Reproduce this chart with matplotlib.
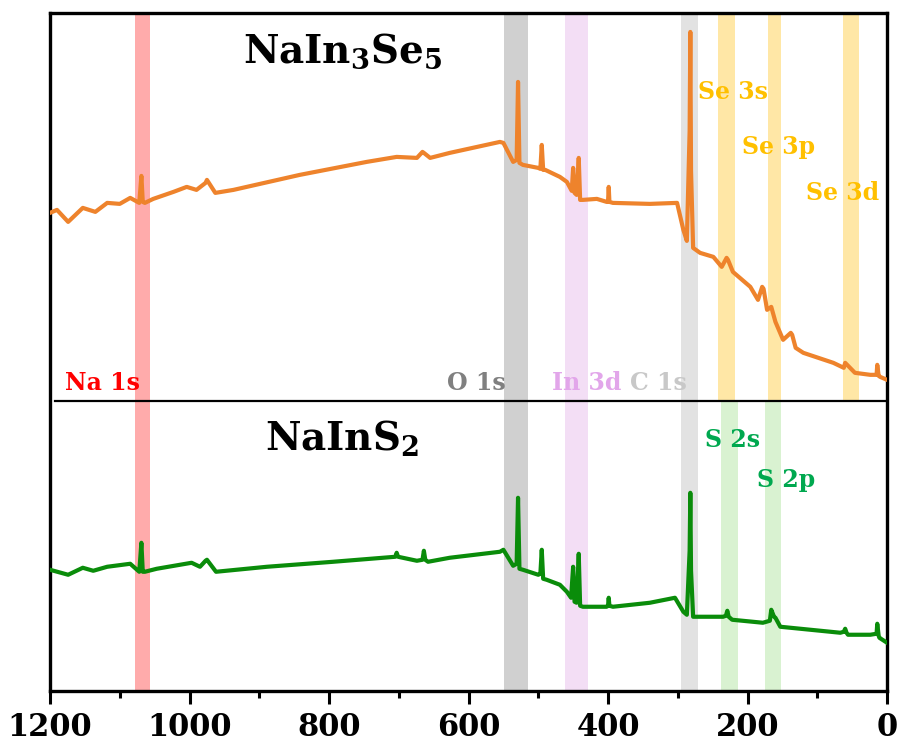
import matplotlib
matplotlib.use('Agg')
import matplotlib.pyplot as plt

plt.rcParams['font.family'] = 'DejaVu Serif'
plt.rcParams['font.weight'] = 'bold'
plt.rcParams['mathtext.fontset'] = 'dejavuserif'

# binding energy (eV) and intensity (a.u.)
se_eV = [1200, 1190, 1174, 1153, 1135, 1118, 1100, 1085, 1072, 1069, 1067, 1064, 1052,
         1023, 1004, 990, 977, 975, 963, 937, 842, 746, 703, 674, 666, 664, 655, 627, 555,
         550, 536, 531, 529, 527, 522, 500, 497, 495, 493, 490, 469, 459, 452, 450, 448,
         445, 442, 440, 436, 416, 402, 400, 399, 398, 393, 340, 301, 292, 287, 283, 282,
         281, 278, 268, 249, 237, 230, 228, 221, 196, 185, 179, 177, 172, 166, 160, 149,
         138, 136, 131, 120, 77, 62, 60, 46, 24, 15, 14, 12, 10, 0]
se_int = [478, 481, 469, 483, 479, 488, 487, 493, 488, 515, 489, 488, 492,
          499, 504, 501, 508, 511, 498, 501, 516, 529, 534, 533, 539, 538, 533, 538, 549,
          548, 529, 531, 609, 528, 526, 523, 522, 546, 521, 521, 514, 509, 500, 523, 498,
          496, 533, 491, 491, 492, 489, 489, 504, 489, 488, 487, 488, 461, 450, 560, 659,
          520, 443, 438, 434, 424, 433, 431, 419, 404, 391, 404, 402, 381, 384, 369, 351,
          358, 356, 343, 338, 328, 323, 328, 318, 316, 316, 326, 315, 314, 311]

s_eV = [1200, 1174, 1153, 1138, 1118, 1085, 1072, 1069, 1067, 1064, 1047, 997, 985,
        977, 975, 962, 889, 794, 705, 703, 701, 674, 666, 664, 662, 658, 627, 555, 550,
        536, 531, 529, 527, 522, 500, 497, 495, 493, 488, 469, 459, 453, 450, 448,
        445, 442, 440, 436, 402, 400, 399, 398, 393, 340, 304, 292, 287, 283, 282, 281,
        278, 235, 231, 229, 227, 222, 178, 168, 166, 162, 160, 153, 67, 62, 60, 58,
        56, 24, 15, 14, 12, 11, 0]
s_int = [121, 116, 123, 120, 124, 127, 119, 148, 119, 119, 122, 128, 124,
         130, 131, 119, 124, 129, 134, 138, 134, 130, 131, 140, 131, 129, 133, 139, 141,
         125, 127, 193, 122, 121, 116, 117, 141, 112, 111, 106, 99, 93, 124, 89,
         88, 137, 85, 84, 84, 85, 93, 85, 84, 88, 93, 79, 76, 140, 198, 120, 74,
         74, 75, 80, 74, 71, 68, 70, 81, 74, 73, 64, 58, 59, 62, 58, 56, 56, 57,
         67, 55, 53, 48]

# shaded peak regions (eV ranges)
common_bands = [('Na 1s', 1078, 1056, '#ffabab', '#ff0000'),
                ('O 1s', 549, 515, '#d0d0d0', '#808080'),
                ('In 3d', 462, 428, '#f3def5', '#e2a6ea'),
                ('C 1s', 295, 271, '#e2e2e2', '#c8c8c8')]
se_bands = [(242, 218), (170, 152), (63, 40)]
s_bands = [(238, 214), (175, 152)]

divider = 290
ymax = 678

fig = plt.figure(figsize=(9.01, 7.44), dpi=100)
ax = fig.add_axes([0.0555, 0.0716, 0.929, 0.911])

for name, hi, lo, fc, tc in common_bands:
    ax.axvspan(lo, hi, color=fc, lw=0, zorder=1)
for hi, lo in se_bands:
    ax.axvspan(lo, hi, ymin=divider / ymax, ymax=1, color='#ffe7a6', lw=0, zorder=1)
for hi, lo in s_bands:
    ax.axvspan(lo, hi, ymin=0, ymax=divider / ymax, color='#d9f2d1', lw=0, zorder=1)

ax.plot(se_eV, se_int, color='#ee832c', lw=3, zorder=3)
ax.plot(s_eV, s_int, color='#0a8c0a', lw=3, zorder=3)
ax.axhline(divider, xmin=0.006, xmax=0.998, color='black', lw=1.6, zorder=4)

# labels
fs = 17
ax.text(1178, 308, 'Na 1s', color='#ff0000', fontsize=fs, va='center', ha='left', zorder=5)
ax.text(631, 308, 'O 1s', color='#808080', fontsize=fs, va='center', ha='left', zorder=5)
ax.text(481, 308, 'In 3d', color='#e2a6ea', fontsize=fs, va='center', ha='left', zorder=5)
ax.text(368, 308, 'C 1s', color='#c8c8c8', fontsize=fs, va='center', ha='left', zorder=5)
ax.text(271, 599, 'Se 3s', color='#ffc000', fontsize=fs, va='center', ha='left', zorder=5)
ax.text(208, 544, 'Se 3p', color='#ffc000', fontsize=fs, va='center', ha='left', zorder=5)
ax.text(116, 498, 'Se 3d', color='#ffc000', fontsize=fs, va='center', ha='left', zorder=5)
ax.text(261, 251, 'S 2s', color='#00a84f', fontsize=fs, va='center', ha='left', zorder=5)
ax.text(186, 211, 'S 2p', color='#00a84f', fontsize=fs, va='center', ha='left', zorder=5)

ax.text(781, 640, r'NaIn$_\mathbf{3}$Se$_\mathbf{5}$', fontsize=28, ha='center', va='center', zorder=5)
ax.text(781, 253, r'NaInS$_\mathbf{2}$', fontsize=28, ha='center', va='center', zorder=5)

ax.set_xlim(1200, 0)
ax.set_ylim(0, ymax)
ax.set_xticks(range(0, 1201, 200))
ax.set_xticks(range(100, 1200, 200), minor=True)
ax.set_yticks([])
ax.tick_params(axis='x', which='major', length=9, width=2.2, labelsize=22, pad=6)
ax.tick_params(axis='x', which='minor', length=5, width=2.2)
for s in ax.spines.values():
    s.set_linewidth(2.4)

fig.savefig('out.png', dpi=100)
